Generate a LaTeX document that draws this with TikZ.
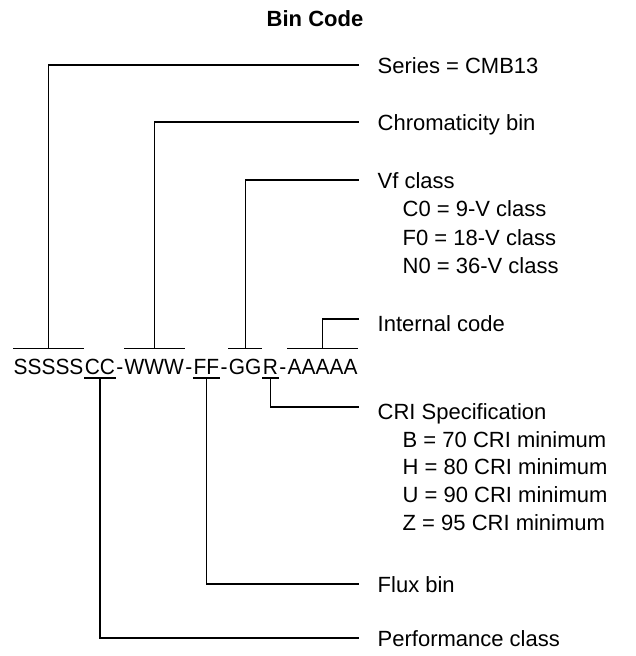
\documentclass[tikz,border=0pt]{standalone}
\usepackage{fontspec}
\setmainfont{Liberation Sans}
\newfontfamily\codefont{Liberation Sans}[FakeStretch=0.95]
\usetikzlibrary{positioning}
\tikzset{
  part/.style={inner sep=0pt,text height=25pt,text depth=3.2pt,font=\codefont\fontsize{22}{26}\selectfont},
  lbl/.style={anchor=west,inner xsep=18pt,inner ysep=0pt,text height=16pt,text depth=0pt,font=\fontsize{22}{26}\selectfont},
  sub/.style={anchor=base west,inner sep=0pt,font=\fontsize{22}{26}\selectfont},
}
\begin{document}
\begin{tikzpicture}[x=1pt,y=-1pt,line width=1.4pt]
\useasboundingbox (0,0) rectangle (636,656);
\node[font=\fontsize{22}{26}\selectfont\bfseries] (title) at (315,19) {Bin Code};
% the code, one node per field
\node[part,anchor=base west] (s) at (13,374) {SSSSS};
\node[part,base right=0pt of s] (c) {CC};
\node[part,base right=0pt of c] (d1) {-};
\node[part,base right=0pt of d1] (w) {WWW};
\node[part,base right=0pt of w] (d2) {-};
\node[part,base right=0pt of d2] (f) {FF};
\node[part,base right=0pt of f] (d3) {-};
\node[part,base right=0pt of d3] (g) {GG};
\node[part,base right=0pt of g] (r) {R};
\node[part,base right=0pt of r] (d4) {-};
\node[part,base right=0pt of d4] (a) {AAAAA};
% labels
\node[lbl] (series) at (359,65) {Series = CMB13};
\node[lbl] (chroma) at (359,122) {Chromaticity bin};
\node[lbl] (vf) at (359,180) {Vf class};
\node[sub] (vfc) at (402,216) {C0 = 9-V class};
\node[sub] (vff) at (402,245) {F0 = 18-V class};
\node[sub] (vfn) at (402,273) {N0 = 36-V class};
\node[lbl,text height=25pt] (internal) at (359,319) {Internal code};
\node[lbl,text height=24pt] (cri) at (359,407) {CRI Specification};
\node[sub] (crib) at (402,447) {B = 70 CRI minimum};
\node[sub] (crih) at (402,474) {H = 80 CRI minimum};
\node[sub] (criu) at (402,502) {U = 90 CRI minimum};
\node[sub] (criz) at (402,530) {Z = 95 CRI minimum};
\node[lbl] (flux) at (359,584) {Flux bin};
\node[lbl] (perf) at (359,638) {Performance class};
% bars above the code
\draw (s.north west) -- (s.north east);
\draw (s.north) |- (series.west);
\draw (w.north west) -- (w.north east);
\draw (w.north) |- (chroma.west);
\draw (g.north west) -- (g.north east);
\draw (g.north) |- (vf.west);
\draw (a.north west) -- (a.north east);
\draw (a.north) |- (internal.west);
% bars below the code
\draw (c.south west) -- (c.south east);
\draw (c.south) |- (perf.west);
\draw (f.south west) -- (f.south east);
\draw (f.south) |- (flux.west);
\draw (r.south west) -- (r.south east);
\draw (r.south) |- (cri.west);
\end{tikzpicture}
\end{document}
